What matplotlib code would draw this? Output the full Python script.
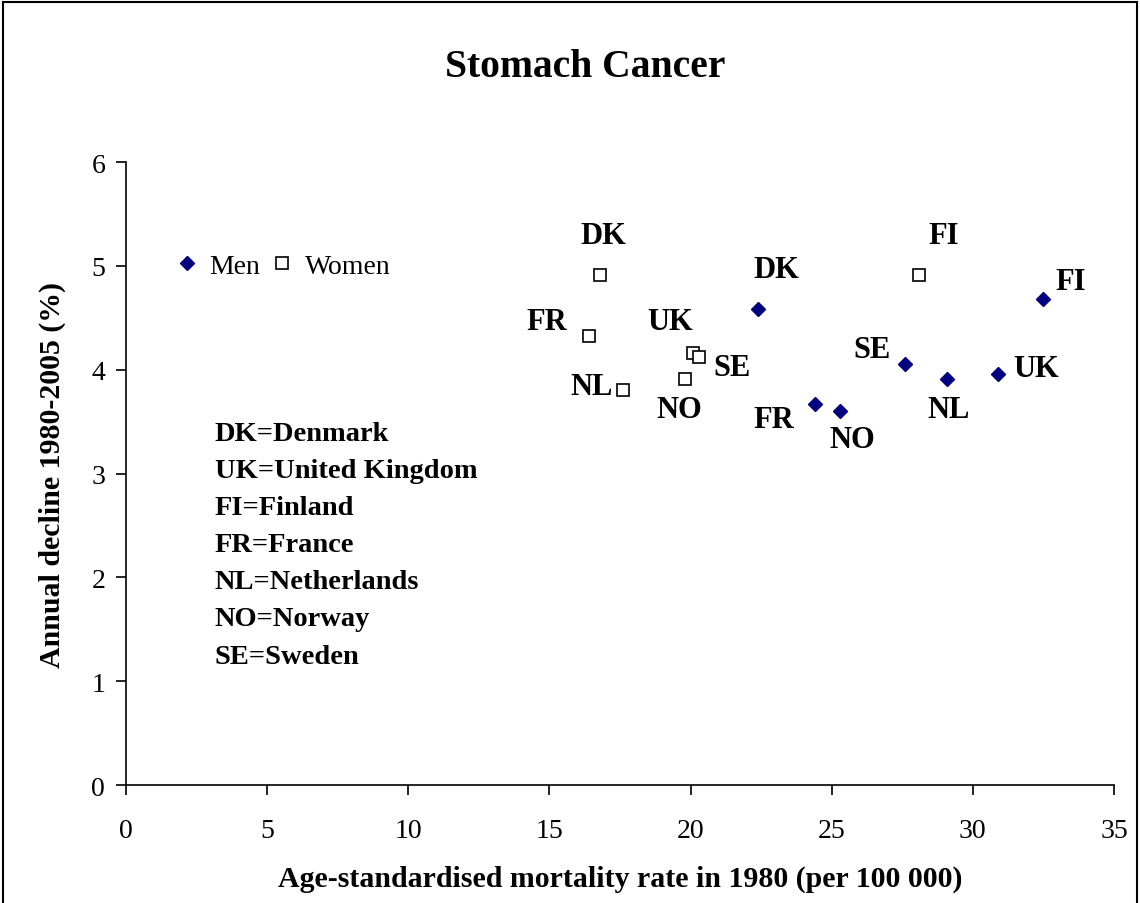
import numpy as np
import matplotlib.pyplot as plt
from matplotlib.patches import Rectangle

plt.rcParams["font.family"] = ["Liberation Serif", "DejaVu Serif"]

countries = ["DK", "UK", "FI", "FR", "NL", "NO", "SE"]

# mortality rate 1980 (per 100 000) and annual decline (%)
men_rate = [22.4, 30.9, 32.5, 24.4, 29.1, 25.3, 27.6]
men_decline = [4.59, 3.96, 4.68, 3.67, 3.91, 3.60, 4.06]
women_rate = [16.8, 20.1, 28.1, 16.4, 17.6, 19.8, 20.3]
women_decline = [4.91, 4.16, 4.91, 4.33, 3.81, 3.91, 4.12]

# label offsets in pixels (dx, dy)
men_offsets = {"DK": (18, 39), "UK": (38, 5), "FI": (27, 18), "FR": (-41, -15),
               "NL": (1, -30), "NO": (12, -28), "SE": (-33, 14)}
women_offsets = {"DK": (3, 40), "UK": (-23, 32), "FI": (24, 40), "FR": (-42, 14),
                 "NL": (-31, 3), "NO": (-6, -30), "SE": (33, -10)}

key_text = ["DK=Denmark", "UK=United Kingdom", "FI=Finland", "FR=France",
            "NL=Netherlands", "NO=Norway", "SE=Sweden"]

fig = plt.figure(figsize=(11.4, 9.04), dpi=100)
ax = fig.add_axes([0.1105, 0.1305, 0.8667, 0.689])

ax.plot(men_rate, men_decline, linestyle="none", marker="D", markersize=7,
        color="#000080", label="Men")
ax.plot(women_rate, women_decline, linestyle="none", marker="s", markersize=8,
        markerfacecolor="white", markeredgecolor="black", markeredgewidth=1.2,
        label="Women")

for c, x, y in zip(countries, men_rate, men_decline):
    ax.annotate(c, (x, y), xytext=men_offsets[c], textcoords="offset pixels",
                ha="center", va="center", fontsize=22, fontweight="bold")
for c, x, y in zip(countries, women_rate, women_decline):
    ax.annotate(c, (x, y), xytext=women_offsets[c], textcoords="offset pixels",
                ha="center", va="center", fontsize=22, fontweight="bold")

ax.text(0.09, 0.585, "\n".join(key_text), transform=ax.transAxes,
        ha="left", va="top", fontsize=20.5, fontweight="bold", linespacing=1.64)

ax.legend(loc="center left", bbox_to_anchor=(1.67, 5.0), bbox_transform=ax.transData,
          ncol=2, frameon=False, fontsize=20, borderpad=0, borderaxespad=0,
          handlelength=1, handletextpad=0.3, columnspacing=0.3)

ax.set_xlim(0, 35)
ax.set_ylim(0, 6)
ax.set_xticks(np.arange(0, 36, 5))
ax.set_yticks(np.arange(0, 7, 1))
ax.spines["top"].set_visible(False)
ax.spines["right"].set_visible(False)
for s in ["left", "bottom"]:
    ax.spines[s].set_linewidth(1.2)
ax.tick_params(axis="x", direction="out", length=7, width=1.2, labelsize=20, pad=17)
ax.tick_params(axis="y", direction="out", length=7, width=1.2, labelsize=20, pad=8)

ax.set_title("Stomach Cancer", fontsize=28.5, fontweight="bold", pad=62, x=0.465)
ax.set_xlabel("Age-standardised mortality rate in 1980 (per 100 000)",
              fontsize=21.5, fontweight="bold", labelpad=15)
ax.set_ylabel("Annual decline 1980-2005 (%)", fontsize=21.5, fontweight="bold",
              labelpad=18)

fig.patches.append(Rectangle((0.003, -0.05), 0.994, 1.047, transform=fig.transFigure,
                             fill=False, edgecolor="black", linewidth=1.5))

fig.savefig("out.png", dpi=100)
